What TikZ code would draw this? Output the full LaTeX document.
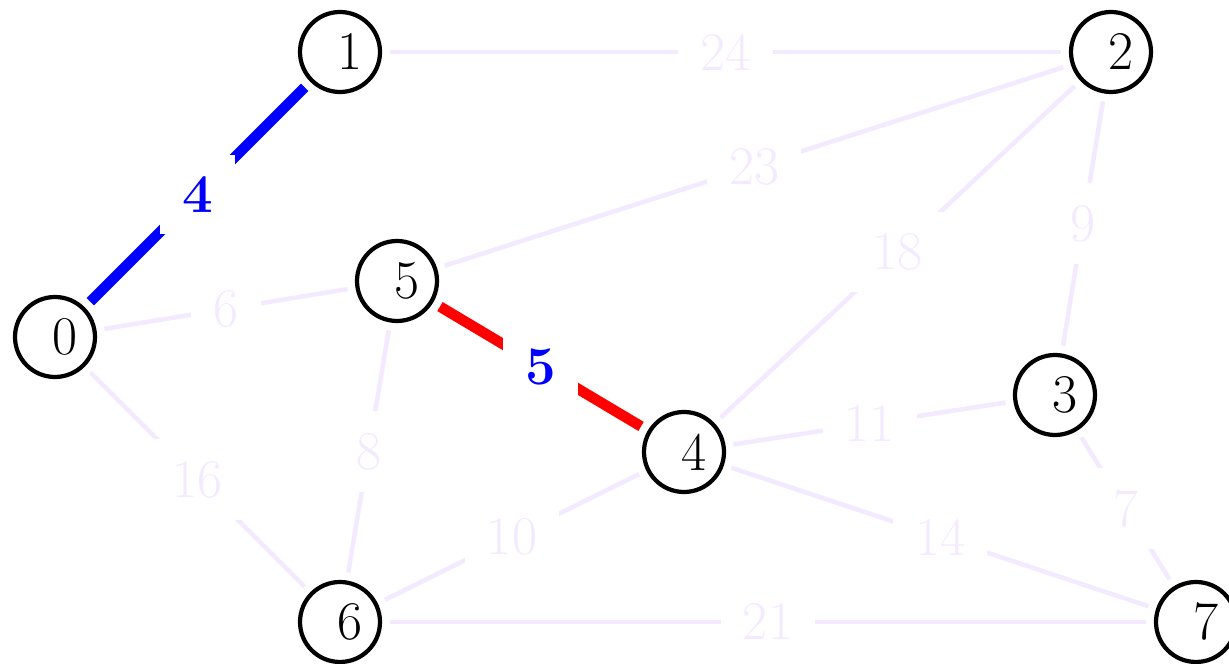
\documentclass[tikz,border=0pt]{standalone}
\usepackage{xcolor}
\usepackage{tikz}
\usetikzlibrary{positioning,calc}

\definecolor{faint}{RGB}{244,234,255}
\newcommand{\vfont}{\fontsize{15.5}{18}\selectfont}

\begin{document}
\begin{tikzpicture}[
    vertex/.style={circle,draw,very thick,minimum size=0.8cm,inner sep=0pt,
                   outer sep=0.1cm,font=\vfont,
                   execute at begin node={\hspace*{0.2cm}}},
    edge/.style={draw=faint,line width=1.3pt},
    weight/.style={midway,fill=white,inner sep=0.22cm,font=\vfont,text=faint},
    chosen/.style={line width=3pt},
    picked/.style={midway,fill=white,inner sep=0.22cm,font=\vfont\bfseries,text=blue}]
  \useasboundingbox (0,0) rectangle (12.29,6.64);

  % vertices
  \node[vertex] (v0) at (0.55,3.27) {0};
  \node[vertex] (v1) at (3.40,6.12) {1};
  \node[vertex] (v2) at (11.11,6.12) {2};
  \node[vertex] (v3) at (10.55,2.69) {3};
  \node[vertex] (v4) at (6.84,2.12) {4};
  \node[vertex] (v5) at (3.97,3.83) {5};
  \node[vertex] (v6) at (3.40,0.42) {6};
  \node[vertex] (v7) at (11.96,0.42) {7};

  % remaining weighted edges
  \draw[edge] (v1) -- node[weight] {24} (v2);
  \draw[edge] (v5) -- node[weight] {23} (v2);
  \draw[edge] (v4) -- node[weight] {18} (v2);
  \draw[edge] (v2) -- node[weight] {9} (v3);
  \draw[edge] (v0) -- node[weight] {6} (v5);
  \draw[edge] (v0) -- node[weight] {16} (v6);
  \draw[edge] (v5) -- node[weight] {8} (v6);
  \draw[edge] (v4) -- node[weight] {10} (v6);
  \draw[edge] (v4) -- node[weight] {11} (v3);
  \draw[edge] (v4) -- node[weight] {14} (v7);
  \draw[edge] (v3) -- node[weight] {7} (v7);
  \draw[edge] (v6) -- node[weight] {21} (v7);

  % tree edge and current edge
  \draw[chosen,blue] (v0) -- node[picked] {4} (v1);
  \draw[chosen,red] (v5) -- node[picked] {5} (v4);
\end{tikzpicture}
\end{document}
